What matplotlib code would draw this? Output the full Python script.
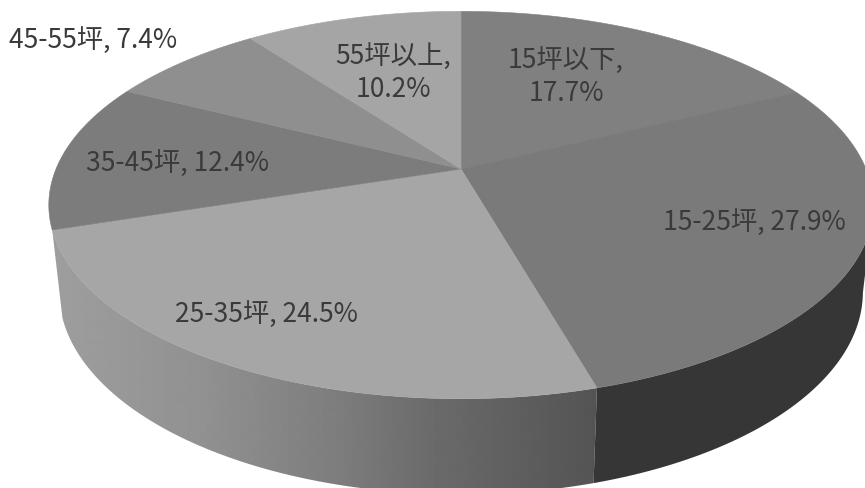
import matplotlib
matplotlib.use("Agg")
import matplotlib.pyplot as plt
import numpy as np

plt.rcParams['font.family'] = ['Noto Sans CJK TC', 'DejaVu Sans']

# clockwise from 12 o'clock
labels = ["15坪以下", "15-25坪", "25-35坪", "35-45坪", "45-55坪", "55坪以上"]
values = [17.7, 27.9, 24.5, 12.4, 7.4, 10.2]

top_colors = ["#808080", "#7a7a7a", "#a6a6a6", "#7c7c7c", "#8f8f8f", "#a5a5a5"]

# pie geometry in image pixels, k is the perspective of the tilted disc
cx, cy = 461, 170
a, b, k = 405, 187, 0.186
depth = 85


def rim(theta):
    x = np.sin(theta)
    y = np.cos(theta)
    d = 1 + k * y
    return cx + a * x / d, cy - b * y / d, depth / (1 + k * y * 0.6)


fig = plt.figure(figsize=(8.65, 4.89), dpi=100)
ax = fig.add_axes([0, 0, 1, 1])

edges = np.cumsum([0] + values) / sum(values) * 2 * np.pi


def wall(i):
    th = np.linspace(edges[i], edges[i + 1], 200)
    x, y, d = rim(th)
    # only the part after the right extreme, a folded outline would leave a hole
    start = np.argmax(x)
    x, y, d = x[start:], y[start:], d[start:]
    lx = x - (x - cx) * 0.025
    ly = y + d
    return np.r_[x, lx[::-1]], np.r_[y, ly[::-1]]


# dark wall of the 15-25 slice
wx, wy = wall(1)
ax.fill(wx, wy, color="#363636", lw=0)

# lighter wall of the 25-35 slice, shaded from left to right
wx, wy = wall(2)
shade_x = np.arange(40, 600)
shade = np.interp(shade_x, [52, 200, 340, 430, 595], [0.62, 0.57, 0.49, 0.42, 0.33])
patch = ax.fill(wx, wy, color="none", lw=0)[0]
im = ax.imshow(shade[np.newaxis, :], extent=(40, 600, 489, 200), cmap="gray",
               vmin=0, vmax=1, aspect="auto", interpolation="bilinear")
im.set_clip_path(patch)

# then the top faces
for i in range(len(values)):
    th = np.linspace(edges[i], edges[i + 1], 200)
    x, y, d = rim(th)
    ax.fill(np.r_[cx, x], np.r_[cy, y], color=top_colors[i], lw=0.4)

ax.set_xlim(0, 865)
ax.set_ylim(489, 0)
ax.axis("off")

text_color = "#3a3a3a"
fs = 19
ax.text(566, 77, labels[0] + ",\n" + str(values[0]) + "%", ha="center", va="center",
        fontsize=fs, color=text_color, linespacing=1.3)
ax.text(754, 222, labels[1] + ", " + str(values[1]) + "%", ha="center", va="center",
        fontsize=fs, color=text_color)
ax.text(266, 314, labels[2] + ", " + str(values[2]) + "%", ha="center", va="center",
        fontsize=fs, color=text_color)
ax.text(177, 163, labels[3] + ", " + str(values[3]) + "%", ha="center", va="center",
        fontsize=fs, color=text_color)
ax.text(93, 40, labels[4] + ", " + str(values[4]) + "%", ha="center", va="center",
        fontsize=fs, color=text_color)
ax.text(393, 73, labels[5] + ",\n" + str(values[5]) + "%", ha="center", va="center",
        fontsize=fs, color=text_color, linespacing=1.25)

fig.savefig("out.png", dpi=100)
